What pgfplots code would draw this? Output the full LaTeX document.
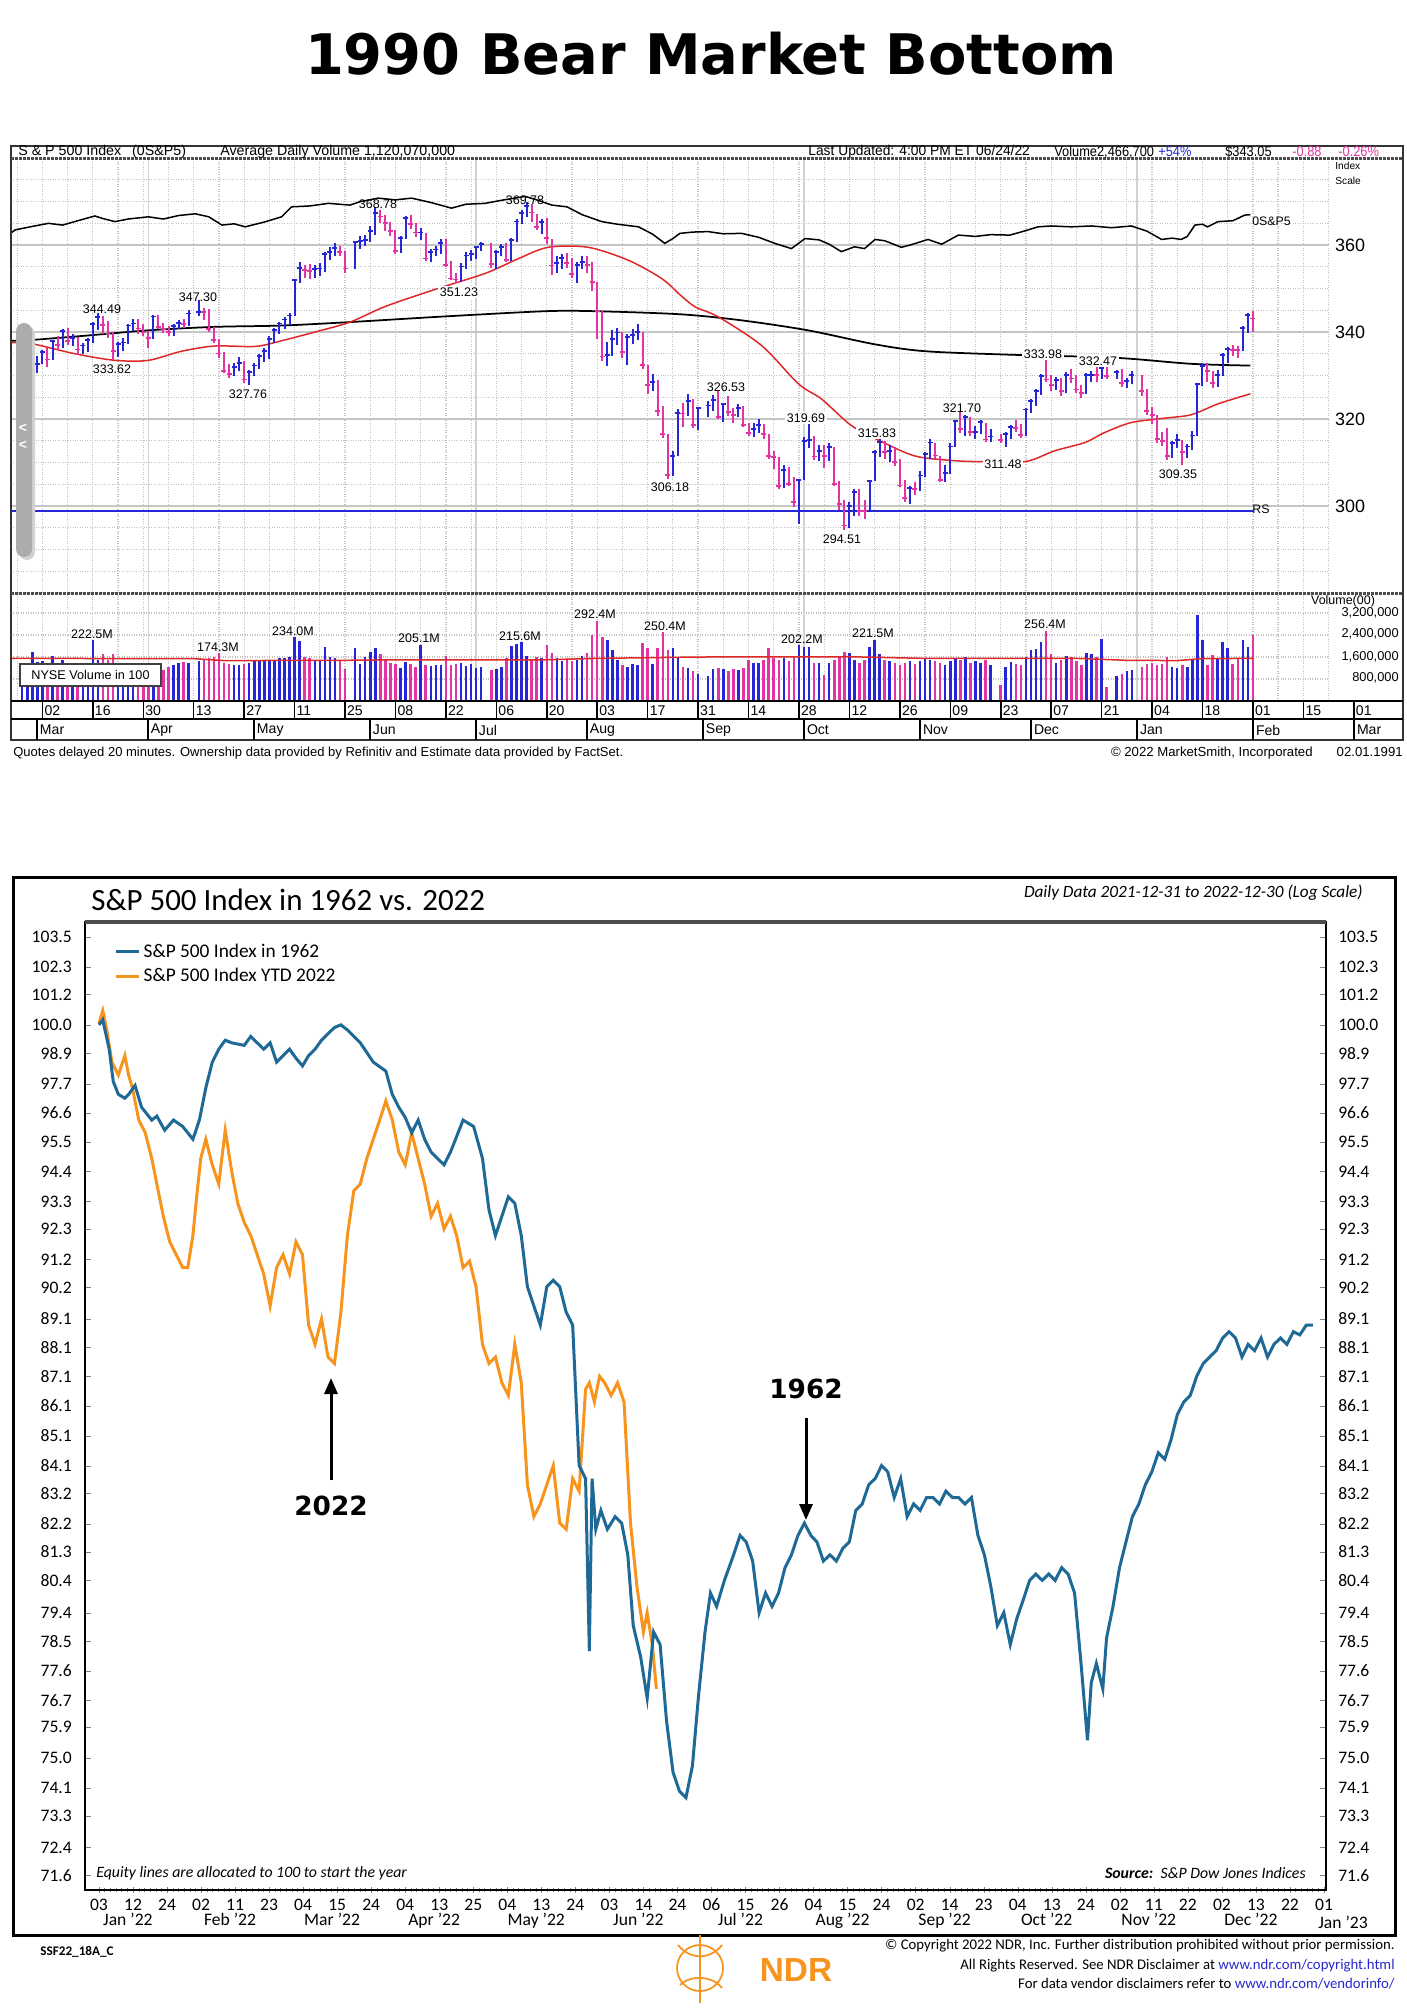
\documentclass[border=0pt]{standalone}
\usepackage{pgfplots}
\pgfplotsset{compat=1.18}
\usepackage{pgfplotstable}
\usepackage{graphicx}
\usetikzlibrary{arrows.meta}
\usepackage{fontspec}
\setmainfont{Liberation Sans}
\newfontfamily\ndr{Carlito}
\newfontfamily\heavy{DejaVu Sans}
\newcommand\fs[1]{\fontsize{#1}{#1}\selectfont}

\definecolor{upblue}{RGB}{38,38,214}
\definecolor{dnmag}{RGB}{226,52,162}
\definecolor{mared}{RGB}{222,40,40}
\definecolor{gridgray}{RGB}{195,195,195}
\definecolor{ndrblue}{RGB}{30,105,150}
\definecolor{ndrorange}{RGB}{247,148,29}
\definecolor{linkblue}{RGB}{40,40,200}

% daily bars, S&P 500 1990-91: weekday index t (0 = Fri 2 Mar 1990), high, low, close, volume (millions)
% up days (blue)
\pgfplotstableread{
t h l c v
-4 329.1 323.9 328.7 140
-3 331.0 327.8 330.3 138
-2 333.2 329.7 331.9 179
-1 334.4 330.7 332.7 143
0 335.9 332.7 335.5 145
2 338.1 333.5 337.9 164
4 340.6 336.4 340.3 149
6 339.5 336.7 338.7 125
8 337.5 335.0 336.9 135
9 338.7 335.4 338.1 140
10 342.4 337.6 341.9 222.5
11 344.5 340.4 343.5 150
15 337.8 334.3 337.2 140
16 338.7 335.6 337.6 130
17 341.9 337.2 341.5 135
18 343.0 340.2 342.0 130
22 344.0 338.4 343.6 140
26 341.9 339.0 341.4 130
27 342.7 340.6 342.1 140
29 345.1 341.3 344.3 140
31 347.3 343.6 344.7 145
38 333.0 329.9 332.0 130
39 334.2 331.1 332.9 132
41 331.3 327.8 330.8 140
42 333.0 330.0 332.3 145
43 335.0 331.6 334.5 148
44 336.3 333.1 335.6 145
45 339.1 333.9 338.4 149
46 341.0 337.4 340.5 150
47 342.4 339.6 342.0 155
48 343.4 340.8 342.9 155
49 344.4 341.6 343.8 160
50 352.0 343.7 352.0 234.0
51 356.0 351.3 354.8 219
54 355.5 352.5 354.5 150
55 355.8 352.8 354.6 150
56 358.5 353.8 358.0 198
57 359.6 356.6 358.4 160
58 360.5 357.6 359.3 155
62 361.0 354.5 360.7 191
63 362.0 359.2 360.9 135
64 362.3 359.7 361.2 160
65 364.3 360.7 363.2 179
66 368.8 362.3 367.4 191
71 362.0 358.2 361.6 120
72 366.6 361.3 366.3 143
75 363.9 361.2 362.9 205.1
77 359.0 356.2 358.5 128
78 359.7 357.5 359.0 130
79 361.3 357.9 360.5 132
83 355.9 351.6 355.1 137
84 358.3 354.6 357.6 128
85 358.9 356.3 358.0 135
86 359.8 356.9 359.5 120
87 360.7 358.7 360.2 125
90 358.9 354.6 358.4 118
91 360.2 357.5 359.5 125
93 361.6 356.4 361.2 201
94 366.1 360.8 365.4 207
95 368.1 364.8 367.3 215.6
96 369.8 366.5 369.0 165
99 366.0 362.6 365.3 155
102 357.5 353.5 355.8 155
103 358.0 354.5 357.1 145
106 356.0 351.2 355.5 150
107 357.6 354.6 356.2 165
112 337.8 332.1 334.8 222
113 340.4 334.4 338.4 185
114 341.0 337.0 339.9 149
116 339.5 332.4 338.8 125
117 340.7 337.3 339.4 135
118 341.9 338.1 340.1 130
121 330.4 326.4 328.5 135
125 312.7 306.9 311.5 191
126 322.2 311.5 321.4 155
128 325.8 320.8 324.2 120
130 322.8 317.5 322.6 100
132 324.2 320.5 323.1 90
133 325.6 321.8 324.4 115
135 323.8 319.4 323.4 118
138 323.5 320.4 322.5 112
141 319.0 315.8 317.8 137
142 320.0 316.7 318.6 140
147 309.5 304.2 308.3 155
150 306.3 295.8 306.0 202.2
151 315.9 306.1 314.9 195
152 319.7 313.4 315.2 195
154 314.0 310.3 312.7 140
156 314.6 310.4 313.5 140
160 301.0 295.0 300.0 175
161 304.0 297.6 303.2 150
164 306.0 298.8 305.7 198
165 313.0 305.7 312.5 221.5
166 315.8 311.2 314.8 170
168 314.0 310.2 312.6 145
172 304.5 300.5 304.1 145
174 308.0 303.5 307.0 145
175 312.5 306.7 311.9 155
176 315.3 310.8 314.6 150
179 309.5 305.5 307.6 130
180 314.4 307.4 313.7 145
181 319.6 313.6 319.5 155
183 320.9 316.2 320.4 160
185 318.5 315.3 317.1 145
186 319.8 316.5 319.3 140
188 317.6 314.7 316.0 130
191 317.0 313.5 316.5 125
192 318.6 315.5 318.1 143
195 322.6 316.2 322.2 160
196 324.6 321.3 324.1 185
197 326.9 322.9 326.4 190
198 330.4 325.6 329.9 215
201 329.6 326.7 328.9 140
203 330.9 326.1 330.2 165
207 330.5 325.8 330.1 173
208 331.0 328.6 330.2 170
210 332.5 329.2 331.8 224
213 331.2 329.2 330.9 90
215 329.5 327.2 328.7 108
216 331.0 328.0 330.2 113
224 315.0 311.1 314.5 125
225 316.5 313.3 315.2 120
227 314.3 311.0 313.7 125
228 317.2 312.8 316.2 150
229 328.0 316.2 328.0 313
230 333.0 327.5 332.2 222
233 331.2 327.3 330.2 155
234 335.2 330.0 334.8 216
235 336.5 333.0 336.1 191
238 341.5 335.6 340.9 222
239 344.4 339.8 343.9 198
}\upbars
% down days (magenta)
\pgfplotstableread{
t h l c v
1 336.4 332.0 333.7 130
3 339.0 335.8 337.0 140
5 341.0 337.0 337.9 135
7 338.9 334.7 336.0 140
12 343.8 339.5 341.6 170
13 342.6 338.7 339.7 150
14 340.0 333.6 335.7 170
19 342.9 339.6 340.8 125
20 341.8 339.1 339.9 130
21 340.2 336.4 338.7 125
23 343.9 340.6 341.1 135
24 342.0 339.7 340.7 113
25 341.4 339.2 340.1 125
28 342.9 341.0 341.9 143
32 345.5 342.8 344.7 150
33 345.3 340.1 340.7 155
34 341.2 337.4 338.1 160
35 338.5 334.0 335.1 174.3
36 335.5 330.6 331.1 140
37 332.7 329.5 330.4 135
40 333.3 328.4 329.1 135
52 355.4 352.4 354.3 160
53 355.6 352.2 354.0 155
59 359.8 357.4 358.4 150
60 358.6 353.6 354.6 116
67 368.1 365.1 366.6 170
68 367.0 363.3 365.0 150
69 365.4 362.2 363.2 140
70 363.5 358.0 358.7 135
73 367.0 363.8 364.9 135
74 365.0 361.9 362.9 125
76 362.8 356.3 356.9 130
80 361.5 355.0 355.4 164
81 356.4 352.0 352.3 130
82 353.6 351.2 352.1 135
89 360.5 354.8 355.7 113
92 360.5 356.1 356.5 155
97 369.5 365.2 367.5 150
98 367.2 363.5 364.2 160
100 366.3 360.3 361.6 202
101 361.5 353.2 355.3 173
104 358.2 354.8 355.9 150
105 357.0 352.4 353.4 145
108 357.4 353.6 355.5 175
109 356.0 349.4 351.5 240
110 351.5 338.4 344.9 292.4
111 344.9 333.3 334.4 234
115 340.0 334.1 335.5 130
119 340.1 331.6 332.4 210
120 332.4 325.8 327.8 191
122 329.0 320.6 321.9 191
123 322.9 315.6 316.6 250.4
124 316.6 306.2 307.1 185
127 323.6 318.2 321.3 125
129 324.5 317.9 318.7 110
134 326.5 320.1 320.5 119
136 325.4 320.6 321.6 110
137 322.5 319.0 321.0 118
139 322.9 318.1 318.7 120
140 319.0 316.0 316.8 150
143 318.9 315.4 316.6 150
144 316.6 310.9 311.5 191
145 312.7 308.5 311.3 155
146 311.3 303.9 304.6 150
148 309.0 304.5 305.1 145
149 306.6 299.7 301.0 160
153 316.0 310.5 311.4 140
155 314.0 308.8 311.5 95
157 313.5 304.6 305.1 150
158 305.8 299.1 300.4 165
159 301.5 294.5 295.5 180
162 304.0 297.8 298.9 140
163 301.5 297.0 298.8 150
167 315.0 310.9 312.4 150
169 313.5 309.2 310.2 140
170 310.8 304.3 304.7 130
171 306.0 301.0 301.9 140
173 305.5 302.5 304.0 135
177 314.5 310.9 311.6 145
178 311.6 305.5 306.0 140
182 321.7 316.7 317.7 150
184 320.5 316.0 317.0 140
187 319.2 314.7 315.3 150
190 316.6 314.5 315.1 58
193 319.8 317.0 318.0 135
194 318.8 315.7 316.4 130
199 334.0 328.6 329.1 256.4
200 330.2 326.5 327.8 170
202 329.5 325.4 326.4 150
204 331.5 328.3 329.3 160
205 330.2 326.1 326.8 145
206 327.8 324.9 326.0 130
209 332.5 328.6 330.1 160
211 332.0 329.1 329.9 52
214 331.4 327.4 328.3 100
218 330.2 325.4 326.5 125
219 327.0 320.9 321.9 135
220 322.8 318.9 321.0 137
221 321.0 314.5 315.4 130
222 317.0 313.9 314.9 135
223 318.0 310.6 311.5 160
226 315.2 309.35 312.5 130
231 332.8 328.6 331.1 131
232 331.1 327.2 328.3 167
236 337.0 334.5 335.8 135
237 336.8 334.0 335.8 155
240 344.8 340.0 343.1 240
}\dnbars

\pgfplotsset{
  ohlc/.style={only marks, mark=-, mark size=0.5mm, mark options={line width=0.35mm, color=#1},
    error bars/.cd, y dir=both, y explicit, error mark=none,
    error bar style={line width=0.4mm, color=#1}},
}

\begin{document}
\begin{tikzpicture}[x=0.2mm,y=-0.2mm]
\path[use as bounding box] (0,0) rectangle (1406,2015);

% ---------- title ----------
\node[font=\heavy\bfseries\fs{31.8}] at (711,54) {1990 Bear Market Bottom};

% ---------- MarketSmith price panel ----------
\begin{axis}[
  at={(2.2mm,-118.6mm)}, anchor=south west, scale only axis,
  width=263.6mm, height=86.8mm,
  xmin=-6.23, xmax=255.1, ymin=280, ymax=379.8,
  axis line style={draw=none},
  xtick={-5,0,...,255}, ytick={280,285,...,375},
  xticklabels={}, yticklabels={}, major tick length=0pt,
  grid=major, major grid style={gridgray, densely dotted, line width=0.25mm},
  extra x ticks={21,86,151,217}, extra x tick labels={},
  extra x tick style={major grid style={gray!35, solid, line width=0.3mm}},
  extra y ticks={300,320,340,360}, extra y tick labels={},
  extra y tick style={major grid style={gray!45, solid, line width=0.3mm}},
]
\addplot[upblue, line width=0.35mm] coordinates {(-6.23,298.9) (240,298.9)};
% relative strength line
\addplot[black, line width=0.3mm] coordinates {
(-6.2,362.8) (-5.4,363.5) (-2,364.3) (1.2,365.0) (4,364.6) (7,365.6) (10.4,366.7) (12,366.1)
(14.4,365.4) (17,366.0) (21,366.5) (24,366.0) (27,366.8) (30.3,367.2) (33,366.5) (35.6,364.6)
(38,364.9) (40.2,364.2) (44,365.3) (47.4,366.5) (49.4,368.8) (53,369.0) (56.7,369.6) (61,369.2)
(63,370.0) (66.6,370.8) (70,370.4) (73.2,370.8) (77,369.8) (81.1,368.5) (84,369.4) (87.8,369.6)
(91,370.3) (95.7,371.2) (98,370.4) (101,369.2) (104,368.8) (107,367.0) (110.9,365.4) (114,364.8)
(118.2,364.2) (121,362.5) (123.4,360.4) (125,361.5) (126.4,362.7) (129,363.0) (132,363.1) (135,362.6)
(138.6,362.7) (142,361.8) (145.2,360.4) (148.5,359.2) (151.2,361.5) (154,361.2) (156,360.2) (158.4,358.5)
(161,359.6) (163,359.2) (165.1,361.3) (167,361.0) (170.3,359.5) (172,360.0) (175.6,361.3) (178.3,360.2)
(181.6,362.3) (185,362.0) (188,362.4) (191.8,362.3) (194,363.0) (197.4,364.2) (200,364.4) (204,364.2)
(208,364.4) (212,364.0) (215.9,364.4) (219,363.2) (221.9,361.3) (224,361.6) (225.8,361.3) (227,362.0)
(228.5,364.6) (230,364.8) (231,364.2) (233.1,365.4) (236,365.6) (238.4,366.9) (239.5,367.0)};
% 200-day line
\addplot[black, line width=0.35mm, smooth] coordinates {
(-6.2,338.0) (-2,338.2) (7.8,339.1) (21,340.4) (34.2,341.2) (47.4,341.5) (61,342.3) (79.8,343.6)
(99.7,344.8) (109.6,344.8) (126.4,344.1) (138.6,342.7) (151.8,340.4) (165,337.2) (175,335.6)
(191.8,334.8) (212.6,334.1) (227.8,332.7) (239.5,332.3)};
% 50-day line
\addplot[mared, line width=0.3mm, smooth] coordinates {
(-6.2,337.6) (-2,337.3) (6.5,335.0) (14.4,333.5) (21,333.5) (27.6,335.6) (34.2,336.8) (42.2,336.7)
(47.4,338.0) (54,340.0) (61,342.3) (68,345.9) (77.8,349.8) (87.8,353.5) (94.4,356.9) (100.3,359.5)
(108.2,359.5) (116.2,356.5) (122.8,352.3) (126.4,348.6) (129.4,345.8) (134,343.5) (142.6,336.9)
(149.9,328.1) (154.5,324.6) (160.4,318.5) (166.4,314.8) (173,311.5) (180,310.5) (185.9,310.2)
(194.8,310.2) (200.7,312.7) (206.7,314.6) (210.6,316.9) (215.9,319.2) (222.5,320.2) (227.8,321.0)
(233.1,323.5) (239.5,325.8)};
% price bars: range low-high, tick at the close
\addplot[upblue, ohlc=upblue]
  table[x=t, y=c, y error plus expr=\thisrow{h}-\thisrow{c}, y error minus expr=\thisrow{c}-\thisrow{l}] {\upbars};
\addplot[dnmag, ohlc=dnmag]
  table[x=t, y=c, y error plus expr=\thisrow{h}-\thisrow{c}, y error minus expr=\thisrow{c}-\thisrow{l}] {\dnbars};
\end{axis}

% ---------- MarketSmith volume panel ----------
\begin{axis}[
  at={(2.2mm,-140.2mm)}, anchor=south west, scale only axis,
  width=263.6mm, height=21.6mm,
  xmin=-6.23, xmax=255.1, ymin=0, ymax=392.7,
  axis line style={draw=none},
  xtick={-5,0,...,255}, ytick={80,160,240,320},
  xticklabels={}, yticklabels={}, major tick length=0pt,
  grid=major, major grid style={gridgray, densely dotted, line width=0.25mm},
  extra x ticks={21,86,151,217}, extra x tick labels={},
  extra x tick style={major grid style={gray!35, solid, line width=0.3mm}},
]
\addplot[ycomb, upblue, line width=0.5mm] table[x=t, y=v] {\upbars};
\addplot[ycomb, dnmag, line width=0.5mm] table[x=t, y=v] {\dnbars};
\addplot[mared, line width=0.3mm] coordinates {
(-6.2,155) (30,154) (36,147) (60,148) (70,150) (100,150) (110,155) (130,160) (160,161)
(175,155) (205,155) (215,148) (225,147) (230,154) (240,155)};
\end{axis}

% ---------- MarketSmith frame and texts ----------
\draw[gray!40!black, line width=0.3mm] (11,146) rectangle (1403,740);
\draw[gray!60!black, line width=0.6mm, dash pattern=on 0.5mm off 0.3mm] (11,159) -- (1403,159);
\draw[gray!60!black, line width=0.6mm, dash pattern=on 0.5mm off 0.3mm] (11,593) -- (1403,593);
\draw[black, line width=0.3mm] (11,701) -- (1403,701);
\draw[black, line width=0.3mm] (11,719) -- (1403,719);
\foreach \lab [count=\k from 0] in {02,16,30,13,27,11,25,08,22,06,20,03,17,31,14,28,12,26,09,23,07,21,04,18,01,15,01}{
  \pgfmathsetmacro\xx{42.4+50.44*\k}
  \draw[black, line width=0.3mm] (\xx,701) -- (\xx,719);
  \node[anchor=west, inner sep=1pt, font=\fs{8}] at (\xx,711) {\lab};
}
\foreach \xx/\lab in {37/Mar,148/Apr,254/May,370/Jun,476/Jul,587/Aug,703/Sep,804/Oct,920/Nov,1031/Dec,1137/Jan,1253/Feb,1354/Mar}{
  \draw[black, line width=0.3mm] (\xx,719) -- (\xx,740);
  \node[anchor=west, inner sep=1.5pt, font=\fs{8}] at (\xx,730) {\lab};
}
% header
\begin{scope}[every node/.style={anchor=west, inner sep=0pt, font=\fs{8.1}}]
\node at (18,152) {S \& P 500 Index\hspace{2.2mm}(0S\&P5)};
\node at (220,152) {Average Daily Volume 1,120,070,000};
\node at (808,152) {\scalebox{0.97}[1]{Last Updated: 4:00 PM ET 06/24/22}};
\node at (1054,152) {\scalebox{0.9}[1]{Volume2,466,700}};
\node[text=upblue] at (1158,152) {\scalebox{0.9}[1]{+54\%}};
\node at (1225,152) {\scalebox{0.9}[1]{\$343.05}};
\node[text=dnmag] at (1292,152) {\scalebox{0.9}[1]{-0.88}};
\node[text=dnmag] at (1338,152) {\scalebox{0.9}[1]{-0.26\%}};
\end{scope}
\node[anchor=west, inner sep=0pt, font=\fs{5.8}] at (1335,166) {Index};
\node[anchor=west, inner sep=0pt, font=\fs{5.8}] at (1335,181) {Scale};
\foreach \yy/\lab in {245/360,332/340,419/320,506/300}{
  \node[font=\fs{10.2}] at (1350,\yy) {\lab};
}
\node[anchor=west, inner sep=0pt, font=\fs{7}] at (1252,221) {0S\&P5};
\node[anchor=west, inner sep=0pt, font=\fs{7}] at (1252,509) {RS};
% price labels
\begin{scope}[every node/.style={font=\fs{7.1}, inner sep=1pt}]
\node at (102,309) {344.49};
\node at (112,369) {333.62};
\node at (198,297) {347.30};
\node at (248,394) {327.76};
\node at (378,204) {368.78};
\node[fill=white] at (459,292) {351.23};
\node at (525,200) {369.78};
\node at (670,487) {306.18};
\node at (726,387) {326.53};
\node[fill=white] at (806,418) {319.69};
\node at (842,539) {294.51};
\node[fill=white] at (877,433) {315.83};
\node at (962,408) {321.70};
\node[fill=white] at (1003,464) {311.48};
\node[fill=white] at (1043,354) {333.98};
\node[fill=white] at (1098,361) {332.47};
\node at (1178,474) {309.35};
\end{scope}
% volume labels
\begin{scope}[every node/.style={font=\fs{7.1}, inner sep=1pt}]
\node at (92,634) {222.5M};
\node at (218,647) {174.3M};
\node at (293,631) {234.0M};
\node at (419,638) {205.1M};
\node at (520,636) {215.6M};
\node at (595,614) {292.4M};
\node at (665,626) {250.4M};
\node at (802,639) {202.2M};
\node at (873,633) {221.5M};
\node at (1045,624) {256.4M};
\end{scope}
\node[font=\fs{7.1}, inner sep=0pt] at (1343,601) {Volume(00)};
\foreach \yy/\lab in {613/{3,200,000},634/{2,400,000},657/{1,600,000},678/{800,000}}{
  \node[anchor=east, inner sep=0pt, font=\fs{7.3}] at (1399,\yy) {\lab};
}
\node[draw=gray!50!black, fill=white, line width=0.25mm, minimum width=28.2mm, minimum height=4.4mm,
  inner sep=0pt, font=\fs{7.2}] at (90.5,675) {NYSE Volume in 100};
% scroll handle
\fill[gray!35, rounded corners=1.6mm] (19,326) rectangle (35,560);
\fill[gray!65, rounded corners=1.6mm] (16,323) rectangle (32,557);
\node[text=white, font=\bfseries\fs{8}, inner sep=0pt] at (23,428) {<};
\node[text=white, font=\bfseries\fs{8}, inner sep=0pt] at (23,445) {<};
% footer
\node[anchor=west, inner sep=0pt, font=\fs{7.4}] at (13,753) {Quotes delayed 20 minutes. Ownership data provided by Refinitiv and Estimate data provided by FactSet.};
\node[anchor=east, inner sep=0pt, font=\fs{7.5}] at (1313,753) {© 2022 MarketSmith, Incorporated};
\node[anchor=east, inner sep=0pt, font=\fs{7.5}] at (1403,752) {02.01.1991};

% ---------- NDR chart ----------
\draw[line width=0.6mm] (13,877) rectangle (1395,1935);
\node[anchor=west, inner sep=0pt, font=\ndr\fs{17.6}] at (91,900) {S\&P 500 Index in 1962 vs. 2022};
\node[anchor=east, inner sep=0pt, font=\ndr\itshape\fs{9.8}] at (1363,893) {Daily Data 2021-12-31 to 2022-12-30 (Log Scale)};

\begin{axis}[
  at={(17mm,-378mm)}, anchor=south west, scale only axis,
  width=248.2mm, height=193.6mm,
  xmin=-0.411, xmax=36.06, ymode=log, ymin=71.2, ymax=104.13,
  axis line style={line width=0.45mm},
  ticklabel style={font=\ndr\fs{10}},
  xtick={0,...,36},
  xticklabels={03,12,24,02,11,23,04,15,24,04,13,25,04,13,24,03,14,24,06,15,26,04,15,24,02,14,23,04,13,24,02,11,22,02,13,22,01},
  minor x tick num=5, xtick pos=bottom, xtick align=center,
  major tick length=1.2mm, minor tick length=0.9mm,
  ytick pos=both, ytick align=inside, yminorticks=false,
  ytick={71.6,72.4,73.3,74.1,75.0,75.9,76.7,77.6,78.5,79.4,80.4,81.3,82.2,83.2,84.1,85.1,86.1,87.1,88.1,89.1,90.2,91.2,92.3,93.3,94.4,95.5,96.6,97.7,98.9,100.0,101.2,102.3,103.5},
  yticklabels={71.6,72.4,73.3,74.1,75.0,75.9,76.7,77.6,78.5,79.4,80.4,81.3,82.2,83.2,84.1,85.1,86.1,87.1,88.1,89.1,90.2,91.2,92.3,93.3,94.4,95.5,96.6,97.7,98.9,100.0,101.2,102.3,103.5},
  yticklabel style={xshift=-1.4mm},
  extra x ticks={0.85,3.85,6.85,9.85,12.85,15.85,18.85,21.85,24.85,27.85,30.85,33.85},
  extra x tick labels={Jan ’22,Feb ’22,Mar ’22,Apr ’22,May ’22,Jun ’22,Jul ’22,Aug ’22,Sep ’22,Oct ’22,Nov ’22,Dec ’22},
  extra x tick style={major tick length=0pt, tick label style={yshift=-3.4mm}},
  legend style={at={(0.019,0.985)}, anchor=north west, draw=none, fill=none,
    font=\ndr\fs{11}, row sep=0.3mm},
  legend cell align=left, reverse legend,
  legend image code/.code={\draw[#1, line width=0.6mm] (0mm,0mm) -- (4.6mm,0mm);},
]
\addplot[ndrorange, line width=0.6mm] coordinates {
(0,100.05) (0.11,100.56) (0.23,99.80) (0.38,98.55) (0.57,98.05) (0.76,98.80) (0.87,98.05) (0.98,97.56)
(1.17,96.33) (1.36,95.85) (1.55,94.89) (1.70,93.94) (1.89,92.76) (2.08,91.83) (2.27,91.37) (2.46,90.91)
(2.61,90.91) (2.76,92.06) (2.87,93.47) (2.99,94.89) (3.14,95.61) (3.33,94.65) (3.52,93.94) (3.71,95.95)
(3.90,94.41) (4.08,93.23) (4.27,92.53) (4.46,92.06) (4.65,91.37) (4.84,90.68) (5.03,89.55) (5.22,90.91)
(5.41,91.37) (5.60,90.68) (5.79,91.83) (5.98,91.37) (6.16,88.88) (6.35,88.21) (6.54,89.10) (6.73,87.77)
(6.92,87.55) (7.11,89.33) (7.30,92.06) (7.49,93.70) (7.68,93.94) (7.87,94.89) (8.06,95.61) (8.25,96.33)
(8.43,97.06) (8.62,96.33) (8.81,95.13) (9.00,94.65) (9.19,95.85) (9.38,94.89) (9.57,93.94) (9.76,92.76)
(9.95,93.23) (10.14,92.30) (10.33,92.76) (10.51,92.06) (10.70,90.91) (10.89,91.14) (11.08,90.23) (11.27,88.21)
(11.46,87.55) (11.65,87.77) (11.84,86.89) (12.03,86.46) (12.22,88.21) (12.41,86.89) (12.59,83.48) (12.78,82.44)
(12.97,82.85) (13.16,83.48) (13.35,84.11) (13.54,82.23) (13.73,82.03) (13.92,83.68) (14.11,83.27) (14.30,86.67)
(14.41,86.89) (14.56,86.24) (14.71,87.11) (14.86,86.89) (15.05,86.46) (15.24,86.89) (15.43,86.24) (15.62,82.23)
(15.81,80.20) (16.00,78.80) (16.11,79.40) (16.26,78.41) (16.38,77.05)};
\addlegendentry{S\&P 500 Index YTD 2022}
\addplot[ndrblue, line width=0.6mm] coordinates {
(0,100.0) (0.11,100.2) (0.30,99.05) (0.42,97.8) (0.57,97.31) (0.76,97.16) (0.87,97.31) (1.06,97.65)
(1.25,96.82) (1.55,96.33) (1.70,96.48) (1.93,95.95) (2.19,96.33) (2.46,96.09) (2.76,95.61) (2.95,96.33)
(3.14,97.56) (3.33,98.55) (3.52,99.05) (3.71,99.40) (3.90,99.30) (4.27,99.20) (4.46,99.55) (4.65,99.30)
(4.84,99.05) (5.03,99.30) (5.22,98.55) (5.41,98.80) (5.60,99.05) (5.79,98.70) (5.98,98.40) (6.16,98.80)
(6.35,99.05) (6.54,99.40) (6.73,99.65) (6.92,99.90) (7.11,100.0) (7.30,99.80) (7.68,99.30) (8.06,98.55)
(8.43,98.20) (8.62,97.31) (8.81,96.82) (9.00,96.43) (9.19,95.85) (9.38,96.33) (9.57,95.61) (9.76,95.13)
(9.95,94.89) (10.14,94.65) (10.33,95.13) (10.70,96.33) (11.01,96.09) (11.27,94.89) (11.46,93.00) (11.65,92.06)
(11.84,92.76) (12.03,93.47) (12.22,93.23) (12.41,92.06) (12.59,90.23) (12.78,89.55) (12.97,88.88) (13.16,90.23)
(13.35,90.46) (13.54,90.23) (13.73,89.33) (13.92,88.88) (14.11,84.11) (14.30,83.68) (14.41,78.2) (14.49,83.68)
(14.60,82.03) (14.75,82.64) (14.94,82.03) (15.17,82.44) (15.36,82.23) (15.54,81.21) (15.70,79.0) (15.92,78.02)
(16.11,76.77) (16.30,78.80) (16.49,78.41) (16.68,76.08) (16.87,74.57) (17.06,74.01) (17.25,73.83) (17.44,74.76)
(17.62,76.85) (17.81,78.80) (17.97,80.00) (18.15,79.60) (18.38,80.40) (18.65,81.21) (18.84,81.83) (19.02,81.62)
(19.21,81.01) (19.40,79.40) (19.59,80.00) (19.78,79.60) (19.97,80.00) (20.16,80.80) (20.35,81.21) (20.54,81.83)
(20.73,82.23) (20.92,81.83) (21.10,81.62) (21.29,81.01) (21.48,81.21) (21.67,81.01) (21.86,81.42) (22.05,81.62)
(22.24,82.64) (22.43,82.85) (22.62,83.48) (22.81,83.68) (23.00,84.11) (23.18,83.90) (23.37,83.06) (23.56,83.68)
(23.75,82.44) (23.94,82.85) (24.13,82.64) (24.32,83.06) (24.51,83.06) (24.70,82.85) (24.89,83.27) (25.08,83.06)
(25.26,83.06) (25.45,82.85) (25.64,83.06) (25.83,81.83) (26.02,81.21) (26.21,80.20) (26.40,79.00) (26.59,79.40)
(26.78,78.41) (26.97,79.20) (27.16,79.80) (27.35,80.40) (27.53,80.60) (27.72,80.40) (27.91,80.60) (28.10,80.40)
(28.29,80.80) (28.48,80.60) (28.67,80.00) (28.86,77.83) (29.05,75.51) (29.16,77.24) (29.31,77.83) (29.50,77.05)
(29.61,78.61) (29.80,79.60) (29.99,80.80) (30.18,81.62) (30.37,82.44) (30.56,82.85) (30.75,83.48) (30.94,83.90)
(31.13,84.53) (31.32,84.32) (31.50,84.95) (31.69,85.81) (31.88,86.24) (32.07,86.46) (32.26,87.11) (32.45,87.55)
(32.64,87.77) (32.83,87.99) (33.02,88.43) (33.21,88.65) (33.40,88.43) (33.59,87.77) (33.77,88.21) (33.96,87.99)
(34.15,88.43) (34.34,87.77) (34.53,88.21) (34.72,88.43) (34.91,88.21) (35.10,88.65) (35.29,88.54) (35.48,88.88)
(35.67,88.88)};
\addlegendentry{S\&P 500 Index in 1962}
\end{axis}
\begin{axis}[
  at={(17mm,-378mm)}, anchor=south west, scale only axis,
  width=248.2mm, height=193.6mm,
  xmin=-0.411, xmax=36.06, ymode=log, ymin=71.2, ymax=104.13,
  axis line style={draw=none}, xtick=\empty, major tick length=0pt, yminorticks=false,
  ytick={71.6,72.4,73.3,74.1,75.0,75.9,76.7,77.6,78.5,79.4,80.4,81.3,82.2,83.2,84.1,85.1,86.1,87.1,88.1,89.1,90.2,91.2,92.3,93.3,94.4,95.5,96.6,97.7,98.9,100.0,101.2,102.3,103.5},
  yticklabels={71.6,72.4,73.3,74.1,75.0,75.9,76.7,77.6,78.5,79.4,80.4,81.3,82.2,83.2,84.1,85.1,86.1,87.1,88.1,89.1,90.2,91.2,92.3,93.3,94.4,95.5,96.6,97.7,98.9,100.0,101.2,102.3,103.5},
  yticklabel pos=right, yticklabel style={font=\ndr\fs{10}, xshift=1.2mm},
]
\end{axis}
\draw[gray!60!black, line width=0.9mm] (85,922) -- (1326,922);
\node[anchor=west, inner sep=0pt, font=\ndr\fs{10}] at (1318,1922) {Jan ’23};
% annotations
\node[font=\heavy\bfseries\fs{15}] at (331,1506) {2022};
\draw[line width=0.6mm, -{Triangle[length=3.2mm,width=2.6mm]}] (331,1480) -- (331,1378);
\node[font=\heavy\bfseries\fs{15}] at (806,1389) {1962};
\draw[line width=0.6mm, -{Triangle[length=3.2mm,width=2.6mm]}] (806,1418) -- (806,1520);
\node[anchor=west, inner sep=0pt, font=\ndr\itshape\fs{9}] at (96,1873) {Equity lines are allocated to 100 to start the year};
\node[anchor=east, inner sep=0pt, font=\ndr\fs{9}] at (1306,1873) {\textbf{\textit{Source:}}\hspace{1.5mm}\textit{S\&P Dow Jones Indices}};
% footer
\node[anchor=west, inner sep=0pt, font=\ndr\bfseries\fs{7.5}] at (40,1952) {SSF22\_18A\_C};
\begin{scope}[ndrorange, line width=0.35mm]
\draw (700,1968) circle (23);
\draw (678,1945) .. controls (690,1960) and (710,1960) .. (722,1945);
\draw (700,1935) -- (700,2003);
\draw (680,1985) .. controls (690,1975) and (712,1975) .. (722,1988);
\end{scope}
\node[text=ndrorange, font=\bfseries\fs{19}, inner sep=0pt] at (796,1970) {NDR};
\begin{scope}[every node/.style={anchor=east, inner sep=0pt, font=\ndr\fs{8.4}}]
\node at (1395,1946) {© Copyright 2022 NDR, Inc. Further distribution prohibited without prior permission.};
\node at (1395,1966) {All Rights Reserved. See NDR Disclaimer at \textcolor{linkblue}{www.ndr.com/copyright.html}};
\node at (1395,1984) {For data vendor disclaimers refer to \textcolor{linkblue}{www.ndr.com/vendorinfo/}};
\end{scope}
\end{tikzpicture}
\end{document}
